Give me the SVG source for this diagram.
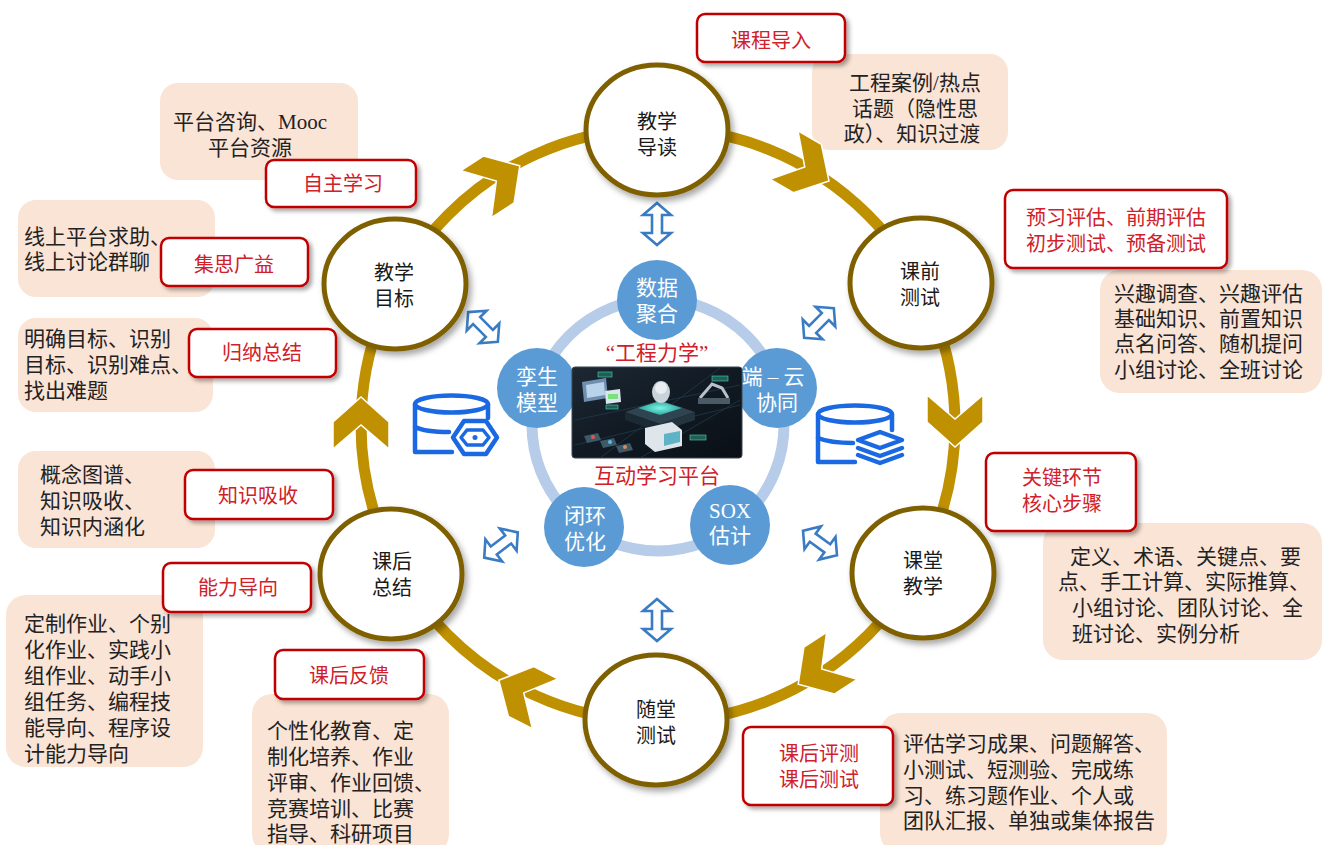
<svg xmlns="http://www.w3.org/2000/svg" width="1323" height="845" viewBox="0 0 1323 845">
  <style>
    .peach { fill: #FAE4D6; }
    .btxt { font-family: "Liberation Serif", "Noto Sans CJK SC", serif; font-size: 21px; fill: #222; }
    .lbl rect { fill: #fff; stroke: #C00000; stroke-width: 2.5; filter: url(#sh); }
    .lbl text { font-family: "Liberation Sans", "Noto Sans CJK SC", sans-serif; font-size: 20px; fill: #D0202A; text-anchor: middle; }
    .node ellipse { fill: #fff; stroke: #7F6000; stroke-width: 5; filter: url(#nsh); }
    .node text { font-family: "Liberation Sans", "Noto Sans CJK SC", sans-serif; font-size: 20px; fill: #1a1a1a; text-anchor: middle; }
    .hub circle { fill: #5B9BD5; }
    .hub text { font-family: "Liberation Serif", "Noto Sans CJK SC", serif; font-size: 21px; fill: #fff; text-anchor: middle; }
    .ring { fill: none; stroke: #BF9000; stroke-width: 11; }
    .chev { fill: #BF9000; stroke: #fff; stroke-width: 1.5; stroke-linejoin: miter; }
    .dbl { fill: #fff; stroke: #3A7CC3; stroke-width: 2.6; stroke-linejoin: miter; }
    .icon { fill: none; stroke: #1B68E3; stroke-width: 4.5; stroke-linecap: round; stroke-linejoin: round; }
    .red { font-family: "Liberation Serif", "Noto Sans CJK SC", serif; font-size: 21px; fill: #D0202A; text-anchor: middle; }
  </style>
  <defs>
    <filter id="sh" x="-20%" y="-30%" width="150%" height="170%">
      <feDropShadow dx="3" dy="3" stdDeviation="2" flood-color="#000" flood-opacity="0.35"/>
    </filter>
    <filter id="nsh" x="-20%" y="-20%" width="150%" height="150%">
      <feDropShadow dx="3" dy="4" stdDeviation="3" flood-color="#000" flood-opacity="0.35"/>
    </filter>
    <polygon id="chevron" points="-26,-28 1,-28 26,0 1,28 -26,28 -2,0"/>
    <polygon id="dblarrow" points="-21,0 -9,-14 -9,-5 9,-5 9,-14 21,0 9,14 9,5 -9,5 -9,14"/>
    <linearGradient id="screenGrad" x1="0" y1="0" x2="1" y2="1">
      <stop offset="0" stop-color="#1d2833"/>
      <stop offset="0.5" stop-color="#111a23"/>
      <stop offset="1" stop-color="#0a0f15"/>
    </linearGradient>
    <radialGradient id="glow" cx="0.5" cy="0.5" r="0.5">
      <stop offset="0" stop-color="#7ff3e6"/>
      <stop offset="1" stop-color="#2aa59a"/>
    </radialGradient>
  </defs>

  <rect width="1323" height="845" fill="#fff"/>

  <!-- description panels -->
  <g id="panels">
    <g id="panel-intro">
      <rect class="peach" x="812" y="54" width="196" height="96" rx="18"/>
      <text class="btxt" text-anchor="middle"><tspan x="915" y="90">工程案例/热点</tspan><tspan x="915" y="116">话题（隐性思</tspan><tspan x="912" y="141">政）、知识过渡</tspan></text>
    </g>
    <g id="panel-self">
      <rect class="peach" x="160" y="83" width="198" height="97" rx="18"/>
      <text class="btxt" text-anchor="middle"><tspan x="250" y="129">平台咨询、Mooc</tspan><tspan x="250" y="155">平台资源</tspan></text>
    </g>
    <g id="panel-group">
      <rect class="peach" x="18" y="200" width="197" height="97" rx="18"/>
      <text class="btxt"><tspan x="24" y="244">线上平台求助、</tspan><tspan x="24" y="269">线上讨论群聊</tspan></text>
    </g>
    <g id="panel-goal">
      <rect class="peach" x="18" y="318" width="195" height="94" rx="18"/>
      <text class="btxt"><tspan x="24" y="346">明确目标、识别</tspan><tspan x="24" y="372">目标、识别难点、</tspan><tspan x="24" y="398">找出难题</tspan></text>
    </g>
    <g id="panel-absorb">
      <rect class="peach" x="18" y="451" width="197" height="97" rx="18"/>
      <text class="btxt"><tspan x="40" y="482">概念图谱、</tspan><tspan x="40" y="508">知识吸收、</tspan><tspan x="40" y="534">知识内涵化</tspan></text>
    </g>
    <g id="panel-ability">
      <rect class="peach" x="6" y="595" width="197" height="172" rx="20"/>
      <text class="btxt"><tspan x="24" y="631">定制作业、个别</tspan><tspan x="24" y="657">化作业、实践小</tspan><tspan x="24" y="683">组作业、动手小</tspan><tspan x="24" y="709">组任务、编程技</tspan><tspan x="24" y="735">能导向、程序设</tspan><tspan x="24" y="761">计能力导向</tspan></text>
    </g>
    <g id="panel-feedback">
      <rect class="peach" x="252" y="694" width="197" height="160" rx="20"/>
      <text class="btxt"><tspan x="267" y="738">个性化教育、定</tspan><tspan x="267" y="764">制化培养、作业</tspan><tspan x="267" y="790">评审、作业回馈、</tspan><tspan x="267" y="816">竞赛培训、比赛</tspan><tspan x="267" y="841">指导、科研项目</tspan></text>
    </g>
    <g id="panel-posttest">
      <rect class="peach" x="880" y="713" width="287" height="140" rx="20"/>
      <text class="btxt"><tspan x="903" y="751">评估学习成果、问题解答、</tspan><tspan x="903" y="777">小测试、短测验、完成练</tspan><tspan x="903" y="803">习、练习题作业、个人或</tspan><tspan x="903" y="828">团队汇报、单独或集体报告</tspan></text>
    </g>
    <g id="panel-pretest">
      <rect class="peach" x="1100" y="270" width="222" height="123" rx="20"/>
      <text class="btxt"><tspan x="1114" y="301">兴趣调查、兴趣评估</tspan><tspan x="1114" y="326">基础知识、前置知识</tspan><tspan x="1114" y="351">点名问答、随机提问</tspan><tspan x="1114" y="377">小组讨论、全班讨论</tspan></text>
    </g>
    <g id="panel-class">
      <rect class="peach" x="1043" y="523" width="279" height="137" rx="20"/>
      <text class="btxt"><tspan x="1070" y="564">定义、术语、关键点、要</tspan><tspan x="1058" y="589">点、手工计算、实际推算、</tspan><tspan x="1072" y="615">小组讨论、团队讨论、全</tspan><tspan x="1072" y="641">班讨论、实例分析</tspan></text>
    </g>
  </g>

  <!-- cycle ring, direction chevrons and double arrows -->
  <g id="connectors">
    <circle class="ring" cx="658" cy="425" r="297"/>
    <use href="#chevron" class="chev" transform="translate(806.5,168) rotate(30)"/>
    <use href="#chevron" class="chev" transform="translate(955,421) rotate(90)"/>
    <use href="#chevron" class="chev" transform="translate(820,670) rotate(147)"/>
    <use href="#chevron" class="chev" transform="translate(522,692) rotate(207)"/>
    <use href="#chevron" class="chev" transform="translate(361,423) rotate(270)"/>
    <use href="#chevron" class="chev" transform="translate(498,180) rotate(327)"/>

    <use href="#dblarrow" class="dbl" transform="translate(657,224) rotate(90)"/>
    <use href="#dblarrow" class="dbl" transform="translate(657,620) rotate(90)"/>
    <use href="#dblarrow" class="dbl" transform="translate(483,327) rotate(45)"/>
    <use href="#dblarrow" class="dbl" transform="translate(819,323) rotate(-45)"/>
    <use href="#dblarrow" class="dbl" transform="translate(501,545) rotate(-37)"/>
    <use href="#dblarrow" class="dbl" transform="translate(820,543) rotate(36)"/>
  </g>

  <!-- cycle stages -->
  <g id="node-guide" class="node">
    <ellipse cx="657" cy="130" rx="71" ry="65"/>
    <text><tspan x="657" y="129">教学</tspan><tspan x="657" y="155">导读</tspan></text>
  </g>
  <g id="node-pretest" class="node">
    <ellipse cx="921" cy="283" rx="71" ry="65"/>
    <text><tspan x="920" y="279">课前</tspan><tspan x="920" y="305">测试</tspan></text>
  </g>
  <g id="node-class" class="node">
    <ellipse cx="923" cy="573" rx="71" ry="65"/>
    <text><tspan x="923" y="568">课堂</tspan><tspan x="923" y="594">教学</tspan></text>
  </g>
  <g id="node-quiz" class="node">
    <ellipse cx="656" cy="720" rx="71" ry="65"/>
    <text><tspan x="656" y="717">随堂</tspan><tspan x="656" y="743">测试</tspan></text>
  </g>
  <g id="node-summary" class="node">
    <ellipse cx="391" cy="574" rx="71" ry="65"/>
    <text><tspan x="392" y="569">课后</tspan><tspan x="392" y="595">总结</tspan></text>
  </g>
  <g id="node-goal" class="node">
    <ellipse cx="395" cy="284" rx="71" ry="65"/>
    <text><tspan x="394" y="280">教学</tspan><tspan x="394" y="306">目标</tspan></text>
  </g>

  <!-- stage labels -->
  <g id="label-intro" class="lbl"><rect x="697" y="14" width="148" height="48" rx="8"/><text x="771" y="48">课程导入</text></g>
  <g id="label-self" class="lbl"><rect x="266" y="160" width="150" height="47" rx="8"/><text x="343" y="191">自主学习</text></g>
  <g id="label-group" class="lbl"><rect x="161" y="238" width="147" height="48" rx="8"/><text x="234" y="272">集思广益</text></g>
  <g id="label-induce" class="lbl"><rect x="189" y="329" width="147" height="48" rx="8"/><text x="262" y="360">归纳总结</text></g>
  <g id="label-absorb" class="lbl"><rect x="185" y="470" width="148" height="49" rx="8"/><text x="258" y="503">知识吸收</text></g>
  <g id="label-ability" class="lbl"><rect x="163" y="563" width="148" height="49" rx="8"/><text x="238" y="595">能力导向</text></g>
  <g id="label-feedback" class="lbl"><rect x="275" y="650" width="149" height="49" rx="8"/><text x="349" y="683">课后反馈</text></g>
  <g id="label-posttest" class="lbl"><rect x="743" y="727" width="150" height="78" rx="8"/><text><tspan x="819" y="761">课后评测</tspan><tspan x="819" y="787">课后测试</tspan></text></g>
  <g id="label-key" class="lbl"><rect x="986" y="453" width="150" height="78" rx="8"/><text><tspan x="1062" y="485">关键环节</tspan><tspan x="1062" y="511">核心步骤</tspan></text></g>
  <g id="label-pretest" class="lbl"><rect x="1005" y="190" width="222" height="78" rx="8"/><text><tspan x="1116" y="225">预习评估、前期评估</tspan><tspan x="1116" y="251">初步测试、预备测试</tspan></text></g>

  <!-- central platform hub -->
  <g id="hub">
    <circle cx="658" cy="425" r="126" fill="none" stroke="#B7CCE8" stroke-width="11"/>
    <g id="hub-data" class="hub"><circle cx="657" cy="300" r="40"/><text><tspan x="657" y="295">数据</tspan><tspan x="657" y="321">聚合</tspan></text></g>
    <g id="hub-twin" class="hub"><circle cx="537" cy="388" r="40"/><text><tspan x="537" y="384">孪生</tspan><tspan x="537" y="410">模型</tspan></text></g>
    <g id="hub-cloud" class="hub"><circle cx="777" cy="388" r="40"/><text><tspan x="773" y="384">端 – 云</tspan><tspan x="777" y="410">协同</tspan></text></g>
    <g id="hub-loop" class="hub"><circle cx="584" cy="527" r="40"/><text><tspan x="585" y="523">闭环</tspan><tspan x="585" y="549">优化</tspan></text></g>
    <g id="hub-sox" class="hub"><circle cx="730" cy="525" r="40"/><text><tspan x="730" y="518">SOX</tspan><tspan x="730" y="543">估计</tspan></text></g>

    <!-- platform screen -->
    <g id="platform-screen">
      <rect x="572" y="367" width="170" height="91" rx="3" fill="url(#screenGrad)" stroke="#3b4654" stroke-width="1"/>
      <g stroke="#22384a" stroke-width="0.8" fill="none">
        <path d="M575,420 L740,385 M575,445 L740,405 M600,458 L720,368 M640,458 L740,400"/>
      </g>
      <!-- left monitors -->
      <polygon points="582,382 606,378 608,398 584,402" fill="#6f8fb0"/>
      <polygon points="586,385 604,382 605,395 587,398" fill="#b9d4ea"/>
      <polygon points="605,391 620,389 621,402 606,404" fill="#d9e6ee"/>
      <rect x="608" y="394" width="10" height="5" fill="#7be07b"/>
      <rect x="598" y="372" width="14" height="5" fill="#1f5f56" stroke="#4fd1b5" stroke-width="0.6"/>
      <!-- central machine -->
      <polygon points="625,412 660,400 695,412 660,424" fill="#2f4450"/>
      <polygon points="625,412 660,424 660,432 625,420" fill="#1c2a33"/>
      <polygon points="695,412 660,424 660,432 695,420" fill="#243540"/>
      <polygon points="638,408 660,401 682,408 660,415" fill="url(#glow)"/>
      <ellipse cx="661" cy="392" rx="9" ry="11" fill="#c9d3da"/>
      <ellipse cx="661" cy="388" rx="6" ry="6" fill="#e8eef2"/>
      <!-- white device -->
      <polygon points="645,428 672,422 682,430 682,446 655,452 645,444" fill="#dfe6eb"/>
      <polygon points="664,434 680,431 680,442 664,446" fill="#5fb3c7"/>
      <!-- robot arm -->
      <path d="M700,398 L712,384 L722,388 L728,398" fill="none" stroke="#b7c2cb" stroke-width="3"/>
      <rect x="698" y="398" width="32" height="6" fill="#4a5b66"/>
      <rect x="712" y="376" width="16" height="5" fill="#1f5f56" stroke="#4fd1b5" stroke-width="0.6"/>
      <!-- small cards -->
      <polygon points="584,436 598,433 601,440 587,443" fill="#3e5968"/>
      <polygon points="600,441 614,438 617,445 603,448" fill="#3e5968"/>
      <polygon points="616,446 630,443 633,450 619,453" fill="#3e5968"/>
      <circle cx="593" cy="437" r="2" fill="#e05555"/>
      <circle cx="610" cy="442" r="2" fill="#55c0e0"/>
      <circle cx="625" cy="447" r="2" fill="#e08c55"/>
      <rect x="690" y="435" width="16" height="5" fill="#1f5f56" stroke="#4fd1b5" stroke-width="0.6"/>
      <rect x="606" y="405" width="12" height="4" fill="#1f5f56" stroke="#4fd1b5" stroke-width="0.6"/>
    </g>
    <text class="red" x="657" y="360">“工程力学”</text>
    <text class="red" x="657" y="483">互动学习平台</text>
  </g>

  <!-- database icons -->
  <g id="icon-db-gear" class="icon">
    <path d="M415,404 L415,452 L452,452"/>
    <ellipse cx="451.5" cy="404" rx="36.5" ry="8.5"/>
    <path d="M488,404 L488,418"/>
    <path d="M415,427 Q425,432 449,432"/>
    <polygon points="464,421 486,421 497,437.5 486,454 464,454 453,437.5"/>
    <path d="M467,430 L483,430 L489,437.5 L483,445 L467,445 L461,437.5 Z" stroke-width="3.5"/>
    <circle cx="475" cy="437.5" r="2.5" fill="#1B68E3" stroke="none"/>
  </g>
  <g id="icon-db-layers" class="icon">
    <path d="M818,414 L818,462 L855,462"/>
    <ellipse cx="855" cy="414" rx="37" ry="8.5"/>
    <path d="M892,414 L892,430"/>
    <path d="M818,438 Q830,443 853,443"/>
    <polygon points="880,432 902,440 880,448 858,440"/>
    <path d="M858,448 L880,456 L902,448"/>
    <path d="M858,455 L880,463 L902,455"/>
  </g>
</svg>
